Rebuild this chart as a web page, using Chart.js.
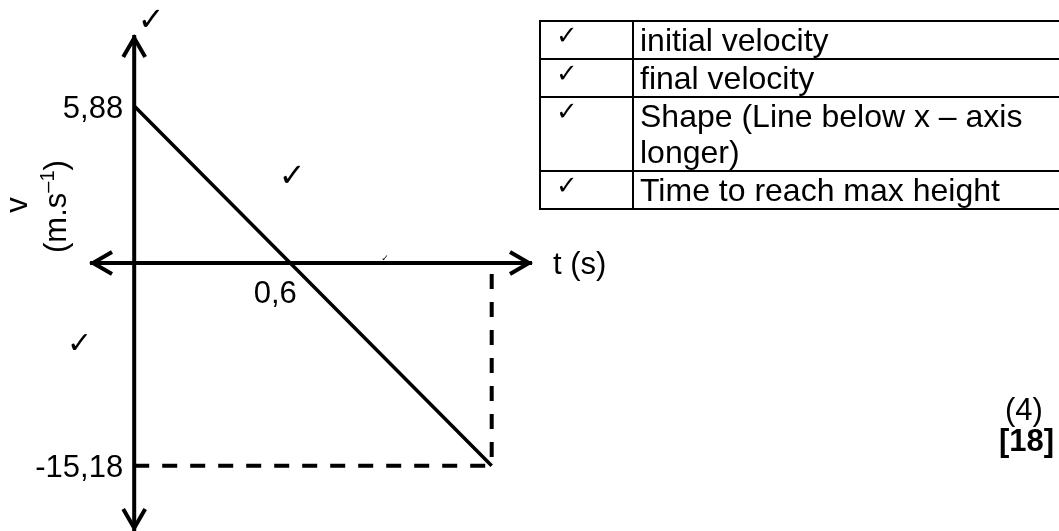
<!DOCTYPE html>
<html>
<head>
<meta charset="utf-8">
<script src="https://cdn.jsdelivr.net/npm/chart.js@4.4.1/dist/chart.umd.min.js"></script>
<style>
  html, body { margin: 0; padding: 0; background: #fff; }
  #wrap {
    position: relative; width: 1059px; height: 531px; overflow: hidden;
    font-family: "Liberation Sans", Arial, sans-serif; color: #000;
  }
  #chartBox { position: absolute; left: 0; top: 0; width: 1059px; height: 531px; }
  table.memo {
    position: absolute; left: 539px; top: 20px; width: 524px;
    border-collapse: collapse; table-layout: fixed;
  }
  table.memo td {
    border: 2px solid #000; padding: 0; vertical-align: top;
  }
  table.memo td.tick {
    width: 93px; font-family: "DejaVu Sans", sans-serif; font-size: 26px;
    line-height: 24px; padding: 1px 0 0 15px; box-sizing: border-box;
  }
  table.memo td.item {
    font-size: 32px; line-height: 36px; padding-left: 6px; white-space: pre-line;
  }
  .side { position: absolute; font-size: 31px; line-height: 31px; }
</style>
</head>
<body>
<div id="wrap">
  <div id="chartBox"><canvas id="vt"></canvas></div>
  <table class="memo" id="memo"></table>
  <div class="side" style="left:1005px; top:394px;">(4)</div>
  <div class="side" style="left:999px; top:425px; font-weight:bold;">[18]</div>
</div>
<script>
// v-t sketch: ball thrown up, 5,88 m/s up, lands at -15,18 m/s
const times = [0, 0.6, 2.15];
const velocity = [5.88, 0, -15.18];
const tickT = [0.6];
const tickV = [5.88, -15.18];
const rubricItems = ['initial velocity', 'final velocity', 'Shape (Line below x \u2013 axis\nlonger)', 'Time to reach max height'];
// marker ticks dotted around the sketch (data units)
const checkT = [0.065, 0.616, -0.21, 1.33];
const checkV = [9.03, 3.18, -6.14, 0.15];
const checkSize = [32, 32, 30, 9];

const fmt = v => String(v).replace('.', ',');
const FONT = '"Liberation Sans", Arial, sans-serif';

// table of marks
const memo = document.getElementById('memo');
rubricItems.forEach(txt => {
  const tr = document.createElement('tr');
  tr.innerHTML = '<td class="tick">\u2713</td><td class="item"></td>';
  tr.children[1].textContent = txt;
  memo.appendChild(tr);
});

// sketch isn't to scale: the part past the knee is drawn at half size
const Linear = Chart.LinearScale || Chart.registry.getScale('linear');
class SketchScale extends Linear {
  warp(v) {
    const o = this.options;
    const k = o.knee || 0, f = o.squeeze || 1;
    const past = o.squeezeSide === 'above' ? v > k : v < k;
    return past ? k + (v - k) * f : v;
  }
  unwarp(w) {
    const o = this.options;
    const k = o.knee || 0, f = o.squeeze || 1;
    const past = o.squeezeSide === 'above' ? w > k : w < k;
    return past ? k + (w - k) / f : w;
  }
  determineDataLimits() {
    super.determineDataLimits();
    this.min = this.warp(this.min);
    this.max = this.warp(this.max);
  }
  buildTicks() {
    // axes are drawn by the plugin, keep the warped limits as they are
    return [{ value: this.min }, { value: this.max }];
  }
  getPixelForValue(v) {
    return super.getPixelForValue(this.warp(v));
  }
  getValueForPixel(p) {
    return this.unwarp(super.getValueForPixel(p));
  }
}
SketchScale.id = 'sketch';
SketchScale.defaults = Linear.defaults;
Chart.register(SketchScale);

function arrow(ctx, tx, ty, dx, dy) {
  const back = 19, half = 11;
  const px = -dy, py = dx;
  tx -= dx * 3; ty -= dy * 3;
  ctx.beginPath();
  ctx.moveTo(tx - dx * back + px * half, ty - dy * back + py * half);
  ctx.lineTo(tx, ty);
  ctx.lineTo(tx - dx * back - px * half, ty - dy * back - py * half);
  ctx.stroke();
}

const sketchAxes = {
  id: 'sketchAxes',
  beforeDatasetsDraw(chart) {
    const { ctx, chartArea: a, scales: { x, y } } = chart;
    const x0 = x.getPixelForValue(0), y0 = y.getPixelForValue(0);
    ctx.save();
    ctx.strokeStyle = '#000';
    ctx.lineWidth = 4;
    ctx.lineJoin = 'miter';
    ctx.beginPath();
    ctx.moveTo(x0, a.top); ctx.lineTo(x0, a.bottom);
    ctx.moveTo(a.left, y0); ctx.lineTo(a.right, y0);
    ctx.stroke();
    arrow(ctx, x0, a.top, 0, -1);
    arrow(ctx, x0, a.bottom, 0, 1);
    arrow(ctx, a.left, y0, -1, 0);
    arrow(ctx, a.right, y0, 1, 0);
    ctx.restore();
  },
  afterDraw(chart) {
    const { ctx, chartArea: a, scales: { x, y } } = chart;
    const x0 = x.getPixelForValue(0), y0 = y.getPixelForValue(0);
    ctx.save();
    ctx.fillStyle = '#000';
    ctx.font = '31px ' + FONT;

    // tick labels
    ctx.textAlign = 'right';
    ctx.textBaseline = 'middle';
    tickV.forEach(v => ctx.fillText(fmt(v), x0 - 11, y.getPixelForValue(v) + 3));
    ctx.textAlign = 'center';
    ctx.textBaseline = 'alphabetic';
    tickT.forEach(t => ctx.fillText(fmt(t), x.getPixelForValue(t) - 15, y0 + 40));

    // x title
    ctx.textAlign = 'left';
    ctx.textBaseline = 'middle';
    ctx.fillText('t (s)', a.right + 21, y0 + 2);

    // y title, two rotated lines
    ctx.save();
    ctx.translate(27, 205);
    ctx.rotate(-Math.PI / 2);
    ctx.textAlign = 'center';
    ctx.textBaseline = 'alphabetic';
    ctx.fillText('v', 0, 0);
    ctx.restore();

    ctx.save();
    ctx.translate(66, 253);
    ctx.rotate(-Math.PI / 2);
    ctx.textAlign = 'left';
    ctx.textBaseline = 'alphabetic';
    const w1 = ctx.measureText('(m.s').width;
    ctx.fillText('(m.s', 0, 0);
    ctx.font = '20px ' + FONT;
    const w2 = ctx.measureText('\u20131').width;
    ctx.fillText('\u20131', w1, -12);
    ctx.font = '31px ' + FONT;
    ctx.fillText(')', w1 + w2, 0);
    ctx.restore();

    // marker ticks
    ctx.textAlign = 'center';
    ctx.textBaseline = 'middle';
    checkT.forEach((t, i) => {
      ctx.font = checkSize[i] + 'px "DejaVu Sans", sans-serif';
      ctx.fillText('\u2713', x.getPixelForValue(t), y.getPixelForValue(checkV[i]));
    });
    ctx.restore();
  }
};

const tEnd = times[times.length - 1];
const vEnd = velocity[velocity.length - 1];

new Chart(document.getElementById('vt'), {
  type: 'line',
  data: {
    datasets: [
      {
        data: times.map((t, i) => ({ x: t, y: velocity[i] })),
        borderColor: '#000',
        borderWidth: 3.5,
        tension: 0,
        pointRadius: 0,
        fill: false,
        clip: false
      },
      {
        data: [{ x: 0, y: vEnd }, { x: tEnd, y: vEnd }],
        borderColor: '#000',
        borderWidth: 4,
        borderDash: [15, 13],
        pointRadius: 0,
        fill: false,
        clip: false
      },
      {
        data: [{ x: tEnd, y: 0 }, { x: tEnd, y: vEnd }],
        borderColor: '#000',
        borderWidth: 4,
        borderDash: [15, 13],
        borderDashOffset: 17,
        pointRadius: 0,
        fill: false,
        clip: false
      }
    ]
  },
  options: {
    responsive: true,
    maintainAspectRatio: false,
    animation: false,
    layout: { padding: { left: 90, right: 527, top: 35, bottom: 0 } },
    scales: {
      x: { type: 'sketch', bounds: 'data', min: -0.17, max: 2.46, knee: 0.6, squeeze: 0.5, squeezeSide: 'above', display: false },
      y: { type: 'sketch', bounds: 'data', min: -20.07, max: 8.54, knee: 0, squeeze: 0.5, squeezeSide: 'below', display: false }
    },
    plugins: {
      legend: { display: false },
      tooltip: { enabled: false }
    }
  },
  plugins: [sketchAxes]
});
</script>
</body>
</html>
